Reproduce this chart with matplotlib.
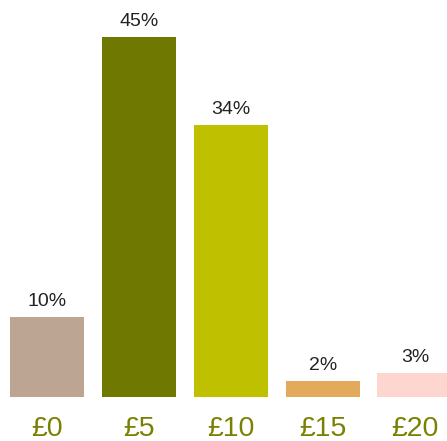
import matplotlib.pyplot as plt

plt.rcParams['font.family'] = ['Liberation Sans', 'DejaVu Sans']

amounts = ['£0', '£5', '£10', '£15', '£20']
shares = [10, 45, 34, 2, 3]
colors = ['#BDA593', '#6F7800', '#BFC000', '#E4AA5B', '#FDD6CF']

fig = plt.figure(figsize=(4.47, 4.41), dpi=100)
ax = fig.add_axes([0, 44 / 441, 1, 397 / 441])

x = range(len(amounts))
bars = ax.bar(x, shares, width=0.815, color=colors)
for bar, v in zip(bars, shares):
    ax.annotate(f'{v}%', (bar.get_x() + bar.get_width() / 2, v),
                xytext=(0, 5), textcoords='offset points',
                ha='center', va='bottom', fontsize=14, color='#222222')

ax.set_xlim(-0.511, 4.348)
ax.set_ylim(0, 49.625)
ax.set_xticks(list(x))
ax.set_xticklabels(amounts, fontsize=20.5, color='#7A8000')
ax.tick_params(axis='x', length=0, pad=14)
ax.set_yticks([])
for s in ax.spines.values():
    s.set_visible(False)

fig.savefig('out.png', dpi=100)
